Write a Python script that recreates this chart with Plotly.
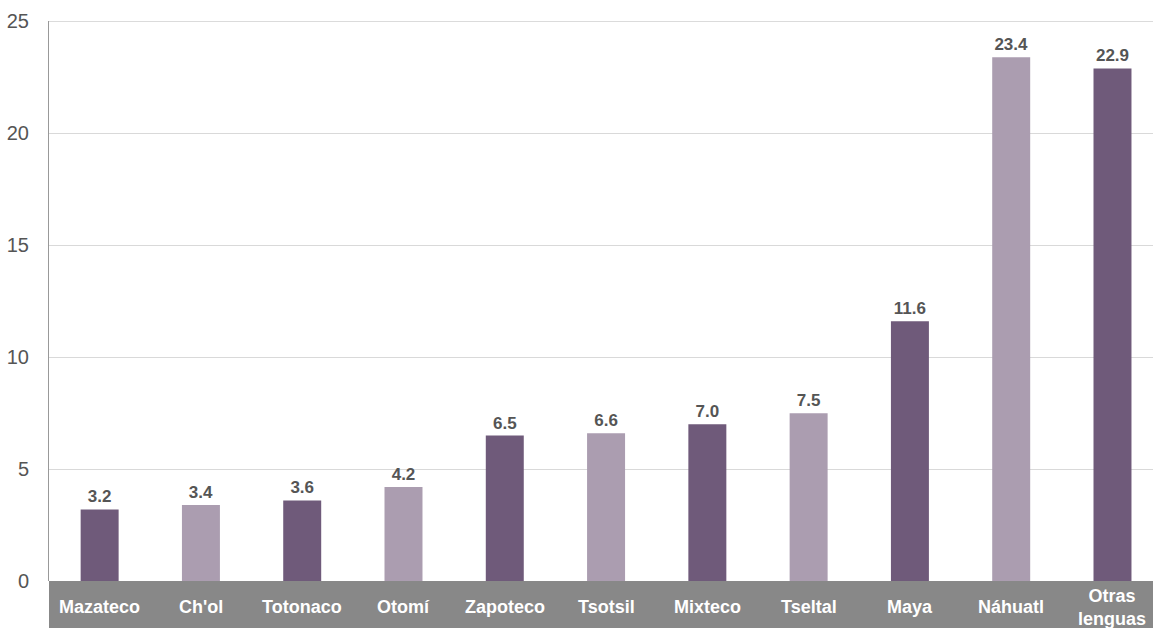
import plotly.graph_objects as go

# Hablantes de lenguas indígenas (%)
lenguas = ["Mazateco", "Ch'ol", "Totonaco", "Otomí", "Zapoteco", "Tsotsil",
           "Mixteco", "Tseltal", "Maya", "Náhuatl", "Otras<br>lenguas"]
porcentajes = [3.2, 3.4, 3.6, 4.2, 6.5, 6.6, 7.0, 7.5, 11.6, 23.4, 22.9]
y_ticks = [0, 5, 10, 15, 20, 25]

OSCURO = "#6f5a7a"
CLARO = "#ab9db0"
colores = [OSCURO if i % 2 == 0 else CLARO for i in range(len(lenguas))]

fig = go.Figure()
fig.add_trace(go.Bar(
    x=list(range(len(lenguas))),
    y=porcentajes,
    marker=dict(color=colores, line=dict(width=0)),
    text=[f"<b>{v:.1f}</b>" for v in porcentajes],
    textposition="outside",
    cliponaxis=False,
    textfont=dict(family="Liberation Sans", size=17, color="#555555"),
    width=0.375,
))

# banda gris bajo el eje x
fig.add_shape(type="rect", xref="paper", yref="paper",
              ysizemode="pixel", yanchor=0,
              x0=0, x1=1, y0=0, y1=-60,
              fillcolor="#888888", line=dict(width=0), layer="above")

# línea de rejilla superior (25)
fig.add_shape(type="line", xref="paper", yref="y",
              x0=0, x1=1, y0=y_ticks[-1], y1=y_ticks[-1],
              line=dict(color="#d9d9d9", width=1), layer="below")

for i, nombre in enumerate(lenguas):
    fig.add_annotation(
        x=i, y=0, xref="x", yref="paper",
        text=f"<b>{nombre}</b>", showarrow=False,
        yanchor="middle", yshift=-26,
        font=dict(family="Liberation Sans", size=18, color="white"),
    )

fig.update_layout(
    width=1153, height=628,
    margin=dict(l=49, r=0, t=21, b=47),
    plot_bgcolor="white", paper_bgcolor="white",
    showlegend=False,
    xaxis=dict(range=[-0.5, 10.4], showticklabels=False, showgrid=False,
               zeroline=False, showline=False, fixedrange=True),
    yaxis=dict(range=[0, 25.02], tickvals=y_ticks, showgrid=True,
               gridcolor="#d9d9d9", gridwidth=1, zeroline=False,
               showline=True, linecolor="#999999", linewidth=1,
               tickfont=dict(family="Liberation Sans", size=20, color="#555555"),
               ticks="", ticklabelstandoff=15),
)

fig.write_html("out.html", config={"displayModeBar": False},
               post_script="document.body.style.margin='0';")
